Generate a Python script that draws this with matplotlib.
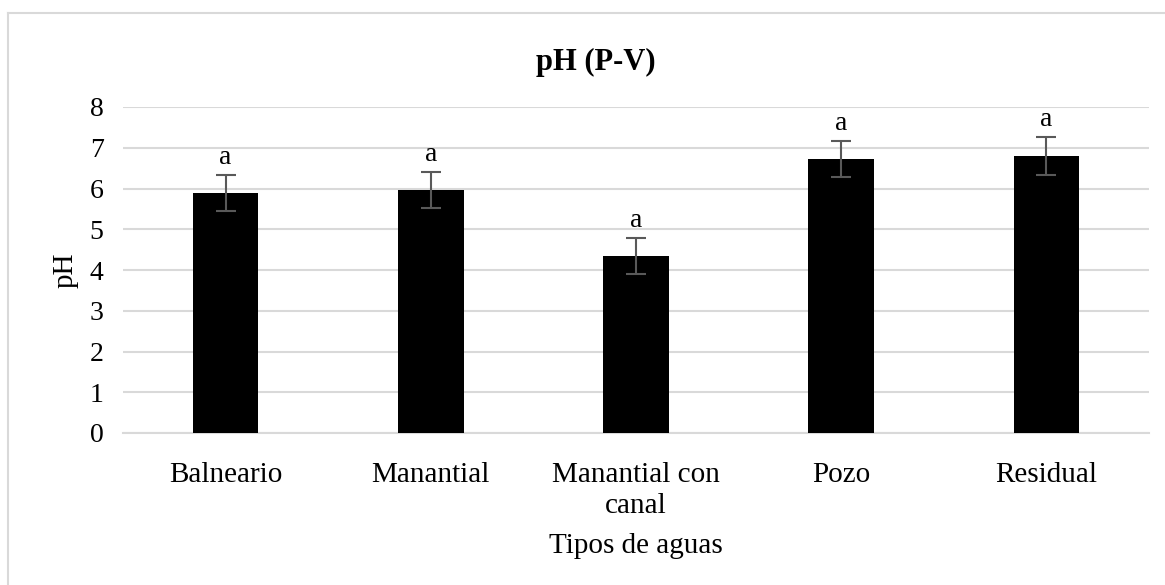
import numpy as np
import matplotlib.pyplot as plt
from matplotlib.lines import Line2D

# Datos
categorias = ['Balneario', 'Manantial', 'Manantial con\ncanal', 'Pozo', 'Residual']
ph_medio = [5.89, 5.96, 4.34, 6.72, 6.80]
ph_error = [0.45, 0.45, 0.44, 0.45, 0.46]
letras = ['a', 'a', 'a', 'a', 'a']
yticks = [0, 1, 2, 3, 4, 5, 6, 7, 8]

plt.rcParams['font.family'] = ['Liberation Serif', 'DejaVu Serif']

W, H = 1165, 585
fig = plt.figure(figsize=(W / 100, H / 100), dpi=100)
ax = fig.add_axes([123 / W, 1 - 433 / H, (1149 - 123) / W, (433 - 107) / H])

x = np.arange(len(categorias))
ax.bar(x, ph_medio, width=0.32, color='black', zorder=3)
ax.errorbar(x, ph_medio, yerr=ph_error, fmt='none', ecolor='#595959',
            elinewidth=1.5, capsize=7, capthick=1.5, zorder=4)

for xi, m, e, t in zip(x, ph_medio, ph_error, letras):
    ax.text(xi, m + e + 0.12, t, ha='center', va='bottom', fontsize=20)

ax.set_xlim(-0.5, len(categorias) - 0.5)
ax.set_ylim(0, 8)
ax.set_yticks(yticks)
ax.set_xticks(x)
ax.set_xticklabels(categorias, fontsize=21, linespacing=1.25)
ax.tick_params(axis='y', labelsize=20, length=0, pad=14)
ax.tick_params(axis='x', length=0, pad=21)

ax.grid(axis='y', color='#d9d9d9', linewidth=1.5, zorder=0)
for s in ['top', 'right', 'left']:
    ax.spines[s].set_visible(False)
ax.spines['bottom'].set_color('#d9d9d9')
ax.spines['bottom'].set_linewidth(1.5)

ax.set_ylabel('pH', fontsize=21, labelpad=8)
ax.set_xlabel('Tipos de aguas', fontsize=21, labelpad=10)

fig.text(596 / W, 1 - 62 / H, 'pH (P-V)', ha='center', va='center',
         fontsize=22, fontweight='bold')

# Borde del área del gráfico
fig.add_artist(Line2D([8 / W, 1], [1 - 13 / H, 1 - 13 / H], color='#d9d9d9',
                      linewidth=1.5, transform=fig.transFigure))
fig.add_artist(Line2D([8 / W, 8 / W], [0, 1 - 13 / H], color='#d9d9d9',
                      linewidth=1.5, transform=fig.transFigure))

fig.savefig('out.png', dpi=100)
